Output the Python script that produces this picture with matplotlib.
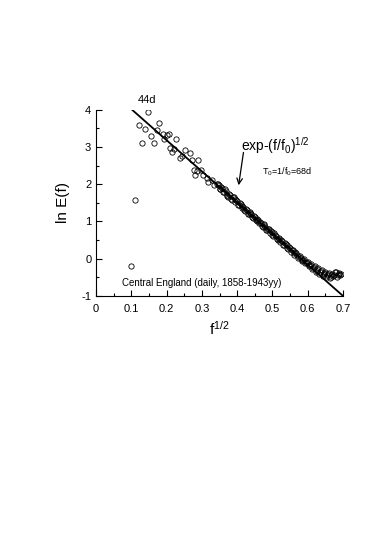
import matplotlib
matplotlib.use('Agg')
import matplotlib.pyplot as plt
from matplotlib.ticker import MultipleLocator

plt.rcParams['font.family'] = ['Liberation Sans', 'DejaVu Sans']
plt.rcParams['mathtext.fontset'] = 'custom'
plt.rcParams['mathtext.rm'] = 'Liberation Sans'
plt.rcParams['mathtext.it'] = 'Liberation Sans'
plt.rcParams['axes.unicode_minus'] = False

x_low = [0.100, 0.110, 0.121, 0.130, 0.140, 0.148, 0.156, 0.163, 0.172, 0.178,
         0.189, 0.193, 0.202, 0.206, 0.210, 0.216, 0.222, 0.227, 0.238, 0.243,
         0.252, 0.266, 0.273, 0.278, 0.280, 0.285, 0.290, 0.297, 0.304, 0.315,
         0.318, 0.328, 0.334, 0.342]
y_low = [-0.20, 1.58, 3.60, 3.10, 3.49, 3.94, 3.31, 3.12, 3.45, 3.66,
         3.35, 3.21, 3.32, 3.34, 2.97, 2.88, 2.95, 3.23, 2.70, 2.75,
         2.92, 2.84, 2.64, 2.39, 2.25, 2.36, 2.64, 2.39, 2.25, 2.16,
         2.05, 2.12, 1.97, 2.01]

x_high = [0.345, 0.350, 0.355, 0.360, 0.365, 0.370, 0.375, 0.380, 0.385, 0.390,
          0.395, 0.400, 0.405, 0.410, 0.415, 0.420, 0.425, 0.430, 0.435, 0.440,
          0.445, 0.450, 0.455, 0.460, 0.465, 0.470, 0.475, 0.480, 0.485, 0.490,
          0.495, 0.500, 0.505, 0.510, 0.515, 0.520, 0.525, 0.530, 0.535, 0.540,
          0.545, 0.550, 0.555, 0.560, 0.565, 0.570, 0.575, 0.580, 0.585, 0.590,
          0.595, 0.600, 0.605, 0.610, 0.615, 0.620, 0.625, 0.630, 0.635, 0.640,
          0.645, 0.650, 0.655, 0.660, 0.665, 0.670, 0.675, 0.680, 0.685, 0.690,
          0.695]
y_high = [2.02, 1.88, 1.93, 1.80, 1.86, 1.72, 1.65, 1.70, 1.58, 1.66,
          1.60, 1.56, 1.44, 1.48, 1.42, 1.30, 1.34, 1.21, 1.26, 1.20,
          1.10, 1.12, 1.00, 1.04, 0.99, 0.88, 0.92, 0.86, 0.76, 0.80,
          0.75, 0.64, 0.68, 0.62, 0.50, 0.53, 0.49, 0.38, 0.42, 0.36,
          0.25, 0.30, 0.22, 0.14, 0.18, 0.10, 0.05, 0.02, -0.06, -0.02,
          -0.10, -0.08, -0.18, -0.14, -0.25, -0.21, -0.32, -0.26, -0.36, -0.30,
          -0.42, -0.35, -0.45, -0.38, -0.48, -0.40, -0.44, -0.37, -0.45, -0.40,
          -0.42]

x_mid = [0.3475, 0.3525, 0.3575, 0.3625, 0.3675, 0.3725, 0.3775, 0.3825, 0.3875, 0.3925,
         0.3975, 0.4025, 0.4075, 0.4125, 0.4175, 0.4225, 0.4275, 0.4325, 0.4375, 0.4425,
         0.4475, 0.4525, 0.4575, 0.4625, 0.4675, 0.4725, 0.4775, 0.4825, 0.4875, 0.4925,
         0.4975, 0.5025, 0.5075, 0.5125, 0.5175, 0.5225, 0.5275, 0.5325, 0.5375, 0.5425,
         0.5475, 0.5525, 0.5575, 0.5625, 0.5675, 0.5725, 0.5775, 0.5825, 0.5875, 0.5925,
         0.5975, 0.6025, 0.6075, 0.6125, 0.6175, 0.6225, 0.6275, 0.6325, 0.6375, 0.6425,
         0.6475, 0.6525, 0.6575, 0.6625, 0.6675, 0.6725, 0.6775, 0.6825, 0.6875, 0.6925]
y_mid = [1.99, 1.86, 1.90, 1.78, 1.83, 1.69, 1.74, 1.61, 1.66, 1.53,
         1.57, 1.45, 1.49, 1.36, 1.40, 1.28, 1.31, 1.19, 1.23, 1.12,
         1.15, 1.03, 1.06, 0.95, 0.97, 0.86, 0.90, 0.78, 0.81, 0.70,
         0.72, 0.62, 0.64, 0.53, 0.56, 0.44, 0.47, 0.36, 0.39, 0.28,
         0.31, 0.19, 0.22, 0.11, 0.14, 0.03, 0.06, -0.04, -0.03, -0.12,
         -0.11, -0.20, -0.17, -0.28, -0.23, -0.35, -0.29, -0.40, -0.33, -0.46,
         -0.38, -0.50, -0.42, -0.52, -0.43, -0.47, -0.35, -0.48, -0.38, -0.45]

# fitted straight line  exp-(f/f0)^1/2
fit_x = [0.10, 0.70]
fit_y = [4.02, -1.00]

fig = plt.figure(figsize=(3.74, 5.36), dpi=100)
ax = fig.add_axes([0.257, 0.448, 0.66, 0.347])

ax.plot(x_low + x_high + x_mid, y_low + y_high + y_mid, 'o', mfc='none',
        mec='black', ms=3.8, mew=0.6)
ax.plot(fit_x, fit_y, color='black', lw=1.3)

ax.set_xlim(0, 0.7)
ax.set_ylim(-1, 4)
ax.spines['top'].set_visible(False)
ax.spines['right'].set_visible(False)
ax.xaxis.set_minor_locator(MultipleLocator(0.05))
ax.yaxis.set_major_locator(MultipleLocator(1))
ax.yaxis.set_minor_locator(MultipleLocator(0.5))
ax.tick_params(which='both', direction='in', labelsize=8)
ax.tick_params(which='major', length=4, width=0.8)
ax.tick_params(which='minor', length=2.5, width=0.8)
ax.set_xticks([0, 0.1, 0.2, 0.3, 0.4, 0.5, 0.6, 0.7])
ax.set_xticklabels(['0', '0.1', '0.2', '0.3', '0.4', '0.5', '0.6', '0.7'])
ax.tick_params(axis='x', pad=6)

ax.set_xlabel('f$^{1/2}$', fontsize=11, labelpad=4)
ax.set_ylabel('ln E(f)', fontsize=11, labelpad=8)

ax.text(0.144, 4.27, '44d', fontsize=8, ha='center', va='center')
ax.text(0.41, 3.05, 'exp-(f/f$_0$)$^{1/2}$', fontsize=10, va='center')
ax.text(0.47, 2.33, 'T$_0$=1/f$_0$=68d', fontsize=6.5, va='center')
ax.annotate('', xy=(0.403, 1.90), xytext=(0.419, 2.93),
            arrowprops=dict(arrowstyle='->', color='black', lw=0.9))
ax.text(0.072, -0.65, 'Central England (daily, 1858-1943yy)', fontsize=7,
        va='center')

fig.savefig('out.png', dpi=100)
